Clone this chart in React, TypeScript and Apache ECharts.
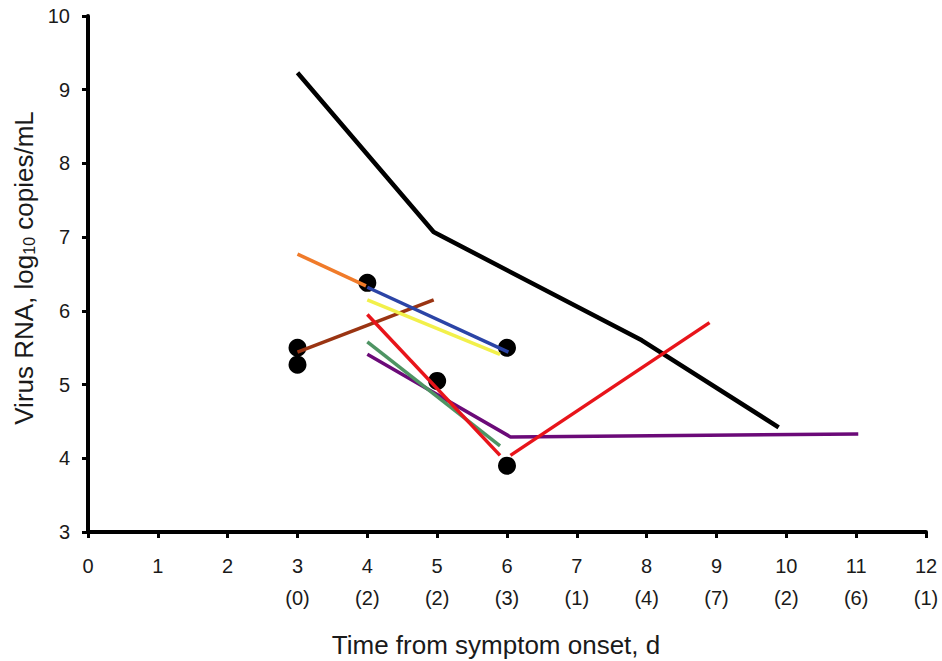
import React, { useEffect, useRef } from "react";
import * as echarts from "echarts";

const sampleCounts: Record<number, string> = { 3: "(0)", 4: "(2)", 5: "(2)", 6: "(3)", 7: "(1)", 8: "(4)", 9: "(7)", 10: "(2)", 11: "(6)", 12: "(1)" };

const blackLine = [[3, 9.23], [4.95, 7.07], [7.93, 5.6], [9.89, 4.42]];
const orangeLine = [[3, 6.77], [3.98, 6.34]];
const blueLine = [[4, 6.32], [6.02, 5.44]];
const yellowLine = [[4, 6.15], [5.9, 5.41]];
const brownLine = [[3, 5.44], [4.95, 6.15]];
const redLineA = [[4, 5.95], [5.9, 4.04]];
const redLineB = [[6.05, 4.04], [8.9, 5.84]];
const greenLine = [[4, 5.58], [5.9, 4.17]];
const purpleLine = [[4, 5.41], [6.05, 4.29], [11.03, 4.33]];
const dots = [[3, 5.5], [3, 5.27], [4, 6.38], [5, 5.05], [6, 5.5], [6, 3.9]];

const lines: { data: number[][]; color: string; width: number }[] = [
  { data: blackLine, color: "#000000", width: 4.5 },
  { data: orangeLine, color: "#F07B2A", width: 3.5 },
  { data: brownLine, color: "#9A3412", width: 3.5 },
  { data: yellowLine, color: "#F2F04A", width: 3.5 },
  { data: blueLine, color: "#2B44A6", width: 3.5 },
  { data: purpleLine, color: "#6B0A78", width: 3.5 },
  { data: greenLine, color: "#4E9463", width: 3.5 },
  { data: redLineA, color: "#E8141A", width: 3.5 },
  { data: redLineB, color: "#E8141A", width: 3.5 },
];

export default function App() {
  const ref = useRef<HTMLDivElement>(null);
  useEffect(() => {
    if (!ref.current) return;
    const chart = echarts.init(ref.current, null, { renderer: "svg" });
    const font = "Liberation Sans, Arial, sans-serif";
    const txt = "#1a1a1a";
    chart.setOption({
      animation: false,
      grid: { left: 88, right: 16, top: 16, bottom: 129, containLabel: false },
      xAxis: {
        type: "value",
        min: 0,
        max: 12,
        interval: 1,
        axisLine: { lineStyle: { color: "#000", width: 4 } },
        axisTick: { show: true, length: 6, lineStyle: { color: "#000", width: 3 } },
        splitLine: { show: false },
        axisLabel: {
          margin: 18,
          color: txt,
          fontSize: 20,
          fontFamily: font,
          lineHeight: 32,
          formatter: (v: number) => (sampleCounts[v] ? `${v}\n${sampleCounts[v]}` : `${v}`),
        },
      },
      yAxis: {
        type: "value",
        min: 3,
        max: 10,
        interval: 1,
        axisLine: { show: true, lineStyle: { color: "#000", width: 4 } },
        axisTick: { show: true, length: 6, lineStyle: { color: "#000", width: 3 } },
        splitLine: { show: false },
        axisLabel: { margin: 18, color: txt, fontSize: 20, fontFamily: font },
      },
      graphic: [
        {
          type: "text",
          x: 496,
          y: 645,
          style: {
            text: "Time from symptom onset, d",
            fill: txt,
            font: `26px ${font}`,
            align: "center",
            verticalAlign: "middle",
          },
        },
        {
          type: "text",
          x: 24,
          y: 268,
          rotation: Math.PI / 2,
          style: {
            text: "{a|Virus RNA, log}{s|10}{a| copies/mL}",
            align: "center",
            verticalAlign: "middle",
            rich: {
              a: { fontSize: 26, fontFamily: font, fill: txt, lineHeight: 26, verticalAlign: "top" },
              s: { fontSize: 16, fontFamily: font, fill: txt, lineHeight: 12, verticalAlign: "bottom" },
            },
          },
        },
      ],
      series: [
        ...lines.map((l) => ({
          type: "line",
          data: l.data,
          symbol: "none",
          lineStyle: { color: l.color, width: l.width },
          z: 2,
        })),
        {
          type: "scatter",
          data: dots,
          symbolSize: 18,
          itemStyle: { color: "#000", opacity: 1 },
          z: 1,
        },
      ],
    });
    return () => chart.dispose();
  }, []);
  return <div ref={ref} style={{ width: 942, height: 661, position: "absolute", left: 0, top: 0, background: "#fff" }} />;
}
